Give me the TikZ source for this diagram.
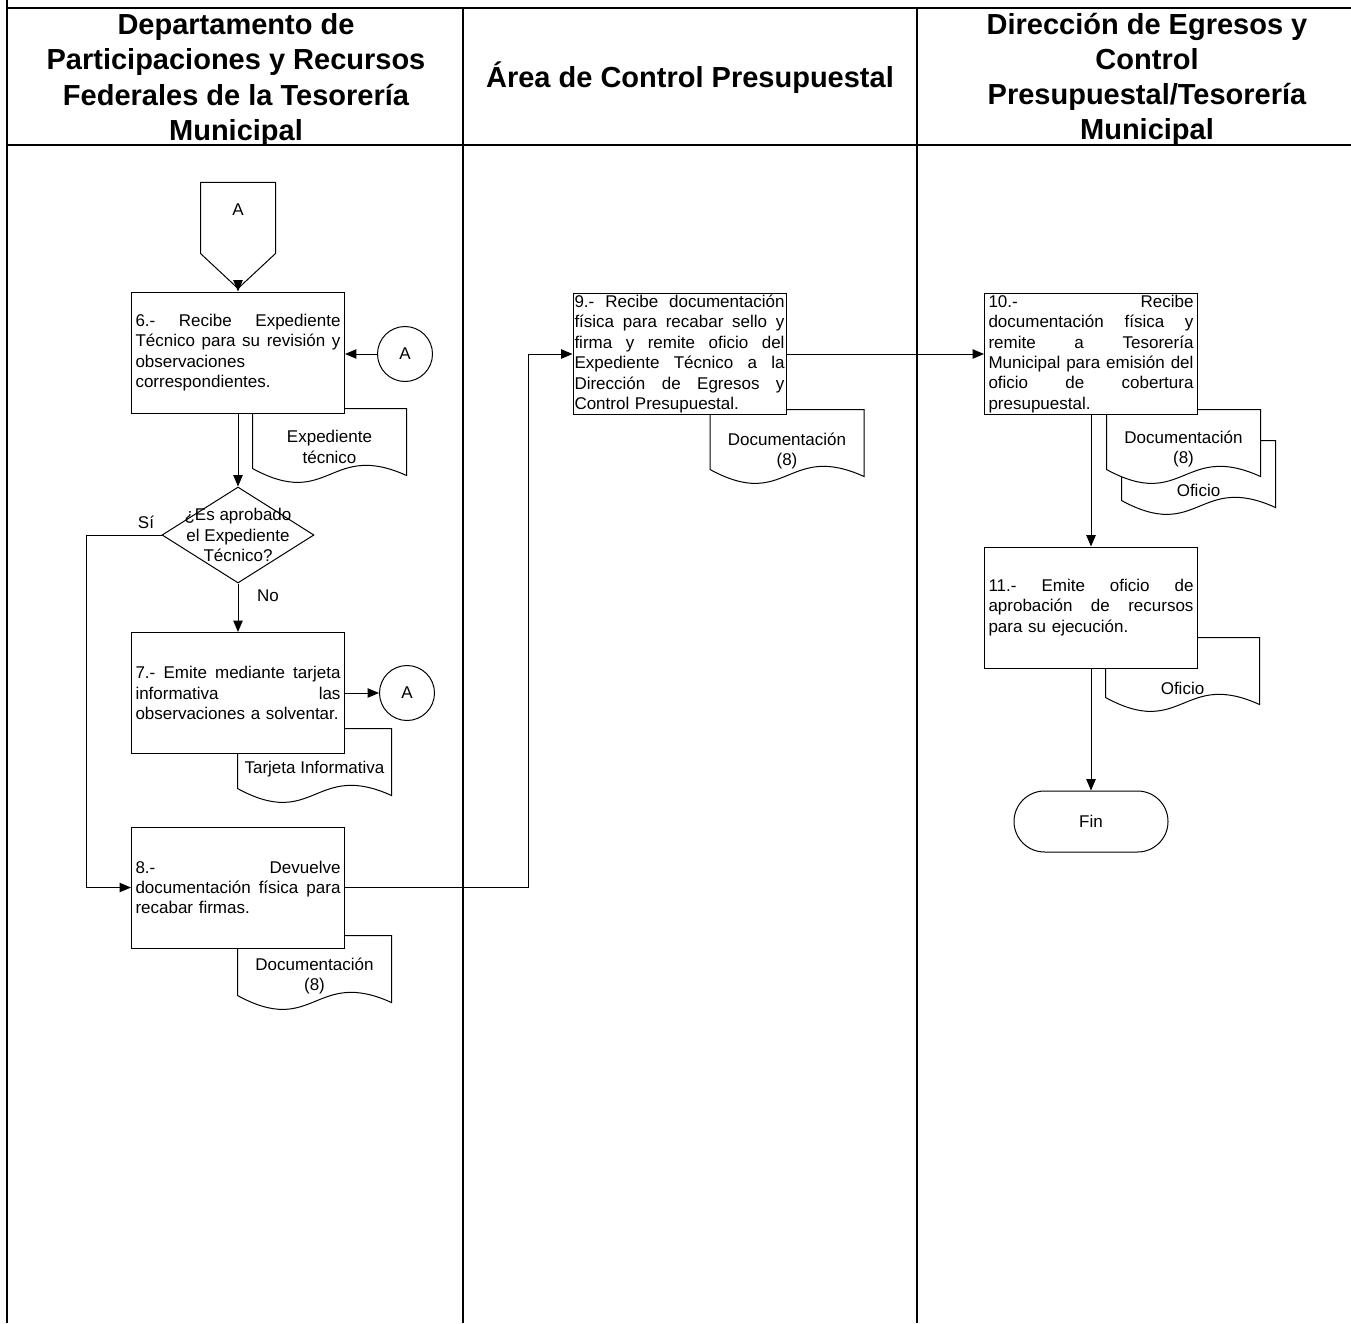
\documentclass[tikz,border=0pt]{standalone}
\usepackage{fontspec}
\setmainfont{Liberation Sans}
\usetikzlibrary{arrows.meta,shapes.geometric,shapes.symbols,shapes.misc,calc}

\newcommand{\flowfont}{\fontsize{12.75}{15.3}\selectfont}
\newcommand{\jline}[2][153.75pt]{\leavevmode\hbox to #1{#2}}
% document shape: name, centre, text, text shift
\newcommand{\docshape}[4]{%
  \node[docbody] (#1) at (#2) {};
  \draw[fill=white] (#1.north west) -- (#1.north east) -- ($(#1.south east)+(0,-8)$)
    .. controls ($(#1.south)+(0,-43)$) and ($(#1.south)+(0,27)$) .. ($(#1.south west)+(0,-15)$) -- cycle;
  \node[doctext] (#1t) at ($(#1.center)+(0,#4)$) {#3};
}

\tikzset{every picture/.style={line width=0.75pt}}
\tikzset{
  lane/.style={line width=1.5pt},
  head/.style={align=center, inner sep=0pt, font=\bfseries\fontsize{21.75}{26.3}\selectfont},
  procbox/.style={draw, fill=white, minimum width=159.75pt, minimum height=90.75pt, text width=153.75pt, align=left, inner sep=0pt, font=\flowfont},
  docbody/.style={minimum width=114.75pt, minimum height=55.5pt, inner sep=0pt},
  doctext/.style={align=center, inner sep=0pt, font=\flowfont},
  conn/.style={draw, circle, fill=white, minimum size=41.25pt, inner sep=0pt, font=\flowfont},
  offpage/.style={draw, fill=white, signal, signal to=south, signal pointer angle=94, minimum width=56.25pt, minimum height=53.25pt, inner sep=0pt},
  decision/.style={draw, diamond, fill=white, minimum width=114pt, minimum height=72pt, inner sep=0pt},
  term/.style={draw, rounded rectangle, fill=white, minimum width=115.5pt, minimum height=45.75pt, inner sep=0pt, font=\flowfont},
  flow/.style={-{Triangle[length=8.5pt,width=7pt]}},
  lbl/.style={inner sep=0pt, font=\flowfont}
}

\begin{document}
\begin{tikzpicture}[x=0.75pt,y=0.75pt,yscale=-1,xscale=1]
\useasboundingbox (0,0) rectangle (1351,1323);

%Table
\draw[lane] (7,0) -- (7,1323);
\draw[lane] (7,8) -- (1351,8);
\draw[lane] (7,145) -- (1351,145);
\draw[lane] (463,8) -- (463,1323);
\draw[lane] (917,8) -- (917,1323);

% Headers
\node[head] (h1) at (236,80) {Departamento de\\Participaciones y Recursos\\Federales de la Tesorería\\Municipal};
\node[head] (h2) at (690,78) {Área de Control Presupuestal};
\node[head] (h3) at (1147,79) {Dirección de Egresos y\\Control\\Presupuestal/Tesorería\\Municipal};

% Documents
\docshape{dExp}{329.5,446}{Expediente\\técnico}{1}
\docshape{dTarj}{314.5,766}{Tarjeta Informativa}{3}
\docshape{dDoc8}{314.5,973}{Documentación\\(8)}{3}
\docshape{dDoc9}{787,447}{Documentación\\(8)}{4}
\docshape{dOf10}{1198.5,478}{}{0}
\node[lbl] (dOf10l) at (1198.5,490) {Oficio};
\docshape{dDoc10}{1183.5,447}{Documentación\\(8)}{2}
\docshape{dOf11}{1182.5,675}{Oficio}{13}

% Left lane
\node[offpage, anchor=north, label={[lbl, yshift=6pt]center:A}] (offA) at (238,182) {};
\node[procbox] (p6) at (238,352.5) {\jline{6.-\hfill Recibe\hfill Expediente}\\\jline{Técnico\hfill para\hfill su\hfill revisión\hfill y}\\observaciones\\correspondientes.};
\node[conn] (cA1) at (405,354) {A};
\node[decision, label={[lbl, align=center]center:{¿Es aprobado\\el Expediente\\Técnico?}}] (q1) at (238,535) {};
\node[lbl] (si) at (146,522) {Sí};
\node[lbl] (no) at (268,596) {No};
\node[procbox] (p7) at (238,693) {\jline{7.-\hfill Emite\hfill mediante\hfill tarjeta}\\\jline{informativa\hfill las}\\observaciones a solventar.};
\node[conn] (cA2) at (407,693) {A};
\node[procbox] (p8) at (238,887.5) {\jline{8.-\hfill Devuelve}\\\jline{documentación\hfill física\hfill para}\\recabar firmas.};

% Middle lane
\node[procbox, text width=157.5pt] (p9) at (679.5,354) {\jline[157.5pt]{9.-\hfill Recibe\hfill documentación}\\\jline[157.5pt]{física\hfill para\hfill recabar\hfill sello\hfill y}\\\jline[157.5pt]{firma\hfill y\hfill remite\hfill oficio\hfill del}\\\jline[157.5pt]{Expediente\hfill Técnico\hfill a\hfill la}\\\jline[157.5pt]{Dirección\hfill de\hfill Egresos\hfill y}\\Control Presupuestal.};

% Right lane
\node[procbox] (p10) at (1091,354) {\jline{10.-\hfill Recibe}\\\jline{documentación\hfill física\hfill y}\\\jline{remite\hfill a\hfill Tesorería}\\\jline{Municipal\hfill para\hfill emisión\hfill del}\\\jline{oficio\hfill de\hfill cobertura}\\presupuestal.};
\node[procbox] (p11) at (1091,607.5) {\jline{11.-\hfill Emite\hfill oficio\hfill de}\\\jline{aprobación\hfill de\hfill recursos}\\para su ejecución.};
\node[term] (fin) at (1091,821.5) {Fin};

% Connectors
\draw[flow] (offA.south) -- (p6.north);
\draw[flow] (cA1) -- (p6.east |- cA1);
\draw[flow] (p6.south) -- (q1.north);
\draw[flow] (q1.south) -- (p7.north);
\draw[flow] (q1.west) -| ($(p8.west)+(-45,0)$) -- (p8.west);
\draw[flow] (p7.east |- cA2) -- (cA2);
\draw[flow] (p8.east) -- ++(183,0) |- (p9.west);
\draw[flow] (p9.east) -- (p10.west);
\draw[flow] (p10.south) -- (p11.north);
\draw[flow] (p11.south) -- (fin.north);

\end{tikzpicture}
\end{document}
